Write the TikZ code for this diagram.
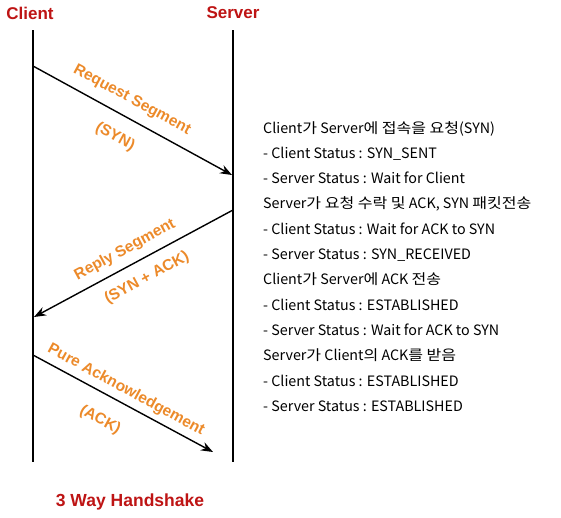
\documentclass[tikz,border=0pt]{standalone}
\usepackage{fontspec}
\setmainfont{Liberation Sans}
\newfontfamily\krfont{Noto Sans CJK KR}
\newfontfamily\kofont[FakeStretch=1.12]{Noto Sans CJK KR}
\newcommand{\ko}[1]{{\kofont #1}}
\usetikzlibrary{arrows.meta}
\definecolor{hsred}{RGB}{190,20,20}
\definecolor{hsorange}{RGB}{236,138,42}
\tikzset{
  lifeline/.style={line width=1.8pt, black},
  msg/.style={line width=1.4pt, black, -{Stealth[length=12pt,width=9pt]}},
  head/.style={font=\fontsize{17}{20}\selectfont\bfseries, text=hsred, inner sep=0pt},
  lbl/.style={font=\fontsize{15.5}{18}\selectfont\bfseries, text=hsorange, inner sep=0pt},
  info/.style={font=\krfont\fontsize{14.3}{16}\selectfont, anchor=base west, inner sep=0pt}
}
\begin{document}
\begin{tikzpicture}[x=1pt,y=-1pt]
\useasboundingbox[fill=white] (0,0) rectangle (561,517);
% lifelines
\coordinate (c0) at (33,30);  \coordinate (c1) at (33,462);
\coordinate (s0) at (233,30); \coordinate (s1) at (233,462);
\draw[lifeline] (c0) -- (c1);
\draw[lifeline] (s0) -- (s1);
\node[head] (client) at (30,13) {Client};
\node[head] (server) at (233,13) {Server};
% messages
\coordinate (m1a) at (33,66);  \coordinate (m1b) at (232,175);
\coordinate (m2a) at (233,210); \coordinate (m2b) at (34,317);
\coordinate (m3a) at (33,355); \coordinate (m3b) at (213,452);
\draw[msg] (m1a) -- (m1b);
\draw[msg] (m2a) -- (m2b);
\draw[msg] (m3a) -- (m3b);
\node[lbl, rotate=-28.5] (l1a) at (132,100) {Request Segment};
\node[lbl, rotate=-28.5] (l1b) at (115,137) {(SYN)};
\node[lbl, rotate=28.5] (l2a) at (125,250) {Reply Segment};
\node[lbl, rotate=28.5] (l2b) at (147,278) {(SYN + ACK)};
\node[lbl, rotate=-28.5] (l3a) at (126,390) {Pure Acknowledgement};
\node[lbl, rotate=-28.5] (l3b) at (100,420) {(ACK)};
% info text
\node[info] (t1) at (263,133) {Client\ko{가} Server\ko{에 접속을 요청}(SYN)};
\node[info] (t2) at (263,158.3) {- Client Status : SYN\_SENT};
\node[info] (t3) at (263,183.6) {- Server Status : Wait for Client};
\node[info] (t4) at (263,208.9) {Server\ko{가 요청 수락 및} ACK, SYN \ko{패킷전송}};
\node[info] (t5) at (263,234.2) {- Client Status : Wait for ACK to SYN};
\node[info] (t6) at (263,259.5) {- Server Status : SYN\_RECEIVED};
\node[info] (t7) at (263,284.8) {Client\ko{가} Server\ko{에} ACK \ko{전송}};
\node[info] (t8) at (263,310.1) {- Client Status : ESTABLISHED};
\node[info] (t9) at (263,335.4) {- Server Status : Wait for ACK to SYN};
\node[info] (t10) at (263,360.7) {Server\ko{가} Client\ko{의} ACK\ko{를 받음}};
\node[info] (t11) at (263,386) {- Client Status : ESTABLISHED};
\node[info] (t12) at (263,411.3) {- Server Status : ESTABLISHED};
\node[head, font=\fontsize{17.5}{20}\selectfont\bfseries] (title) at (130,502) {3 Way Handshake};
\end{tikzpicture}
\end{document}
